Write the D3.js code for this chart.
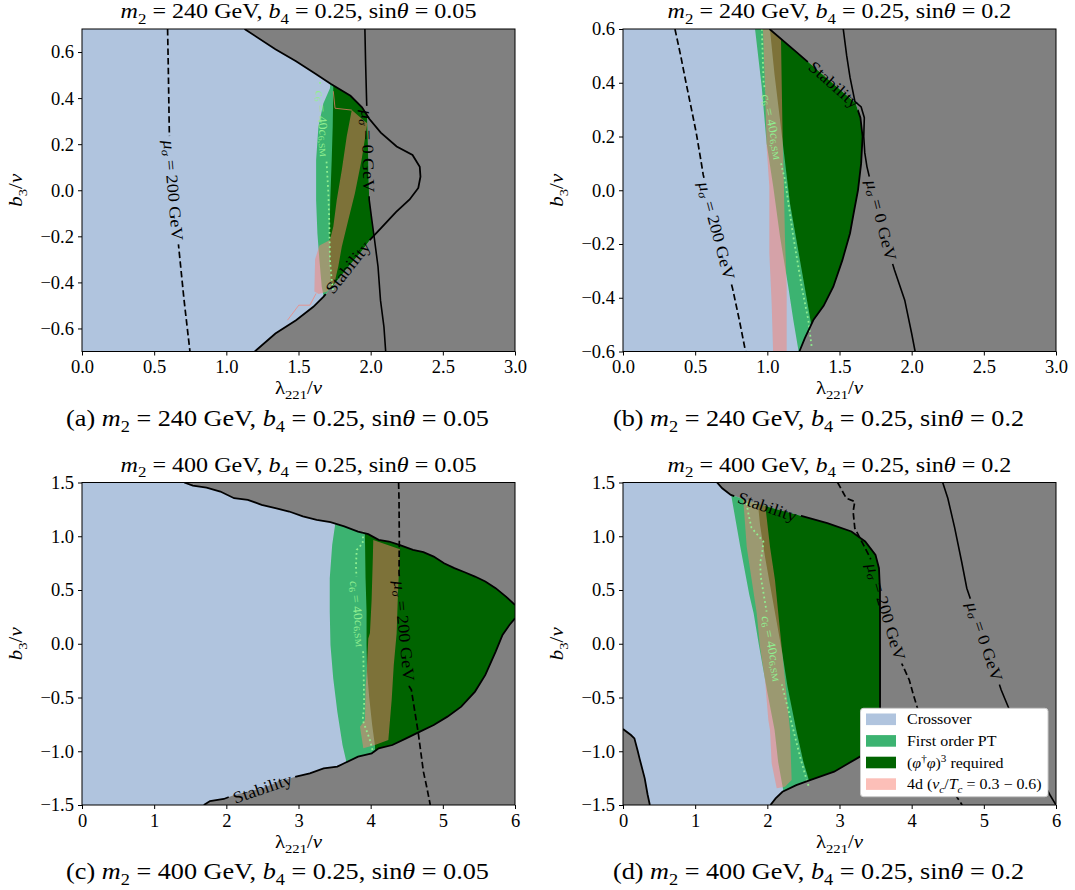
<!DOCTYPE html>
<html><head><meta charset="utf-8">
<script src="https://cdn.jsdelivr.net/npm/d3@7"></script>
<style>body{margin:0;background:#fff} svg text{font-family:"Liberation Serif","DejaVu Serif",serif;}</style>
</head><body><svg id="c" width="1075" height="890" style="background:#fff"></svg>
<script>
// ---------- tick values ----------
const xTicksAB=[0,0.5,1,1.5,2,2.5,3];
const yTicksA=[-0.6,-0.4,-0.2,0,0.2,0.4,0.6];
const yTicksB=[-0.6,-0.4,-0.2,0,0.2,0.4,0.6];
const xTicksCD=[0,1,2,3,4,5,6];
const yTicksCD=[-1.5,-1,-0.5,0,0.5,1,1.5];
const m2Values=['240','240','400','400'];
const sinValues=['0.05','0.2','0.05','0.2'];
const tags=['(a)','(b)','(c)','(d)'];
const legendNames=['Crossover','First order PT','(φ†φ)3 required','4d (vc/Tc = 0.3 − 0.6)'];

// ---------- panel (a) ----------
const stabA=[[1.126,0.7],[1.34,0.612],[1.483,0.56],[1.62,0.505],[1.722,0.462],[1.86,0.41],[1.94,0.36],[1.99,0.31],[2.07,0.25],[2.18,0.19],[2.29,0.153],[2.34,0.102],[2.345,0.059],[2.33,0.01],[2.27,-0.04],[2.175,-0.095],[2.07,-0.165],[1.995,-0.215],[1.93,-0.27],[1.865,-0.317],[1.77,-0.39],[1.674,-0.462],[1.603,-0.506],[1.483,-0.564],[1.34,-0.622],[1.197,-0.7]];
const mu0A=[[1.96,0.7],[1.965,0.55],[1.972,0.386],[1.978,0.25],[1.982,0.17],[1.985,0.05],[1.99,-0.042],[2.008,-0.129],[2.027,-0.216],[2.051,-0.332],[2.068,-0.477],[2.092,-0.593],[2.104,-0.7]];
const mu200A=[[0.593,0.7],[0.596,0.6],[0.6,0.45],[0.605,0.247],[0.62,0.1],[0.633,0],[0.655,-0.15],[0.672,-0.259],[0.707,-0.476],[0.748,-0.7]];
const fopA=[[1.76,0.75],[1.718,0.443],[1.672,0.377],[1.638,0.276],[1.622,0.131],[1.622,-0.043],[1.631,-0.188],[1.645,-0.303],[1.661,-0.419],[1.672,-0.455],[1.72,-0.75]];
const dgA=[[1.75,0.75],[1.741,0.443],[1.737,0.276],[1.73,0.131],[1.72,-0.043],[1.715,-0.2],[1.72,-0.35],[1.74,-0.75]];
const pinkA=[[1.869,0.348],[1.977,0.29],[1.937,0.131],[1.891,-0.013],[1.845,-0.129],[1.8,-0.245],[1.776,-0.33],[1.75,-0.4],[1.7,-0.44],[1.64,-0.45],[1.61,-0.44],[1.615,-0.3],[1.645,-0.24],[1.718,-0.216],[1.741,-0.158],[1.765,-0.042],[1.8,0.088],[1.834,0.233]];
const pinkEdgeA1=[[1.741,0.43],[1.753,0.356],[1.869,0.348]];
const pinkEdgeA2=[[1.424,-0.564],[1.502,-0.499],[1.579,-0.499],[1.622,-0.448]];
const dotA=[[1.649,0.47],[1.655,0.4],[1.672,0.29],[1.695,0.117],[1.707,-0.013],[1.714,-0.158],[1.718,-0.303],[1.73,-0.39],[1.74,-0.44]];

// ---------- panel (b) ----------
const stabB=[[1.015,0.6],[1.2,0.515],[1.4,0.422],[1.61,0.325],[1.645,0.27],[1.66,0.2],[1.65,0.1],[1.628,0.0],[1.6,-0.08],[1.573,-0.16],[1.52,-0.26],[1.457,-0.359],[1.39,-0.43],[1.319,-0.483],[1.26,-0.55],[1.222,-0.6]];
const mu0B=[[1.526,0.6],[1.55,0.5],[1.573,0.42],[1.607,0.33],[1.65,0.31],[1.672,0.27],[1.668,0.2],[1.675,0.14],[1.69,0.088],[1.72,0.02],[1.79,-0.111],[1.86,-0.26],[1.881,-0.297],[1.952,-0.409],[2.0,-0.533],[2.024,-0.6]];
const mu200B=[[0.36,0.6],[0.4,0.5],[0.437,0.399],[0.475,0.3],[0.508,0.212],[0.54,0.11],[0.556,0.057],[0.65,-0.15],[0.759,-0.365],[0.806,-0.483],[0.849,-0.6]];
const fopB=[[0.905,0.65],[0.915,0.599],[0.961,0.385],[0.995,0.175],[1.041,0.013],[1.088,-0.173],[1.145,-0.359],[1.18,-0.483],[1.215,-0.594],[1.225,-0.65]];
const dgB=[[1.01,0.65],[1.018,0.599],[1.05,0.43],[1.088,0.261],[1.157,-0.049],[1.238,-0.297],[1.307,-0.508],[1.33,-0.65]];
const pinkB=[[0.968,0.62],[0.984,0.385],[0.995,0.162],[1.014,0.013],[1.014,-0.235],[1.03,-0.421],[1.041,-0.62],[1.134,-0.62],[1.134,-0.359],[1.122,-0.173],[1.115,0.013],[1.106,0.199],[1.1,0.385],[1.093,0.62]];
const dotB=[[0.962,0.6],[0.974,0.4],[1.04,0.237],[1.105,0.076],[1.122,0.04],[1.18,-0.173],[1.238,-0.359],[1.284,-0.483],[1.307,-0.582]];

// ---------- panel (c) ----------
const topC=[[1.416,1.5],[1.536,1.471],[1.726,1.453],[1.917,1.416],[2.108,1.354],[2.298,1.339],[2.489,1.292],[2.68,1.261],[2.871,1.23],[3.061,1.184],[3.252,1.153],[3.443,1.131],[3.634,1.091],[3.825,1.044],[3.967,1.019],[4.111,0.967],[4.254,0.951],[4.397,0.92],[4.587,0.873],[4.731,0.852],[4.874,0.811],[5.017,0.749],[5.16,0.703],[5.303,0.665],[5.446,0.625],[5.589,0.579],[5.732,0.517],[5.875,0.439],[6.0,0.361]];
const botC=[[1.688,-1.5],[1.774,-1.463],[1.965,-1.444],[2.108,-1.407],[2.298,-1.376],[2.5,-1.345],[2.7,-1.29],[2.966,-1.236],[3.157,-1.205],[3.348,-1.159],[3.538,-1.143],[3.634,-1.112],[3.825,-1.05],[4.015,-1.019],[4.111,-0.973],[4.301,-0.942],[4.492,-0.88],[4.683,-0.818],[4.874,-0.756],[5.064,-0.678],[5.255,-0.585],[5.446,-0.445],[5.589,-0.29],[5.732,-0.073],[5.827,0.082],[5.923,0.175],[6.0,0.237]];
const mu200C=[[4.387,1.5],[4.393,1.337],[4.397,0.951],[4.393,0.655],[4.466,0.12],[4.536,-0.4],[4.564,-0.429],[4.66,-0.833],[4.731,-1.19],[4.776,-1.33],[4.826,-1.5]];
const fopC=[[3.52,1.6],[3.515,1.143],[3.467,0.92],[3.433,0.61],[3.433,0.3],[3.443,-0.011],[3.481,-0.321],[3.538,-0.632],[3.61,-0.942],[3.658,-1.081],[3.7,-1.6]];
const dgC=[[3.92,1.6],[3.92,1.037],[3.929,0.61],[3.943,0.3],[3.943,-0.011],[3.95,-0.26],[3.98,-0.5],[4.02,-0.75],[4.06,-0.95],[4.08,-1.6]];
const pinkC=[[4.036,0.965],[4.406,0.878],[4.38,0.5],[4.36,0.097],[4.32,-0.2],[4.291,-0.523],[4.245,-0.895],[4.059,-0.942],[3.898,-0.972],[3.852,-0.772],[3.921,-0.709],[3.93,-0.4],[3.944,-0.275],[3.967,0.05],[3.99,0.1],[4.013,0.407],[4.03,0.8]];
const dotC=[[3.898,1.042],[3.889,0.934],[3.806,0.872],[3.796,0.717],[3.83,0.28],[3.898,-0.089],[3.91,-0.586],[3.889,-0.709],[3.99,-0.895],[4.036,-1.019]];

// ---------- panel (d) ----------
const stabD=[[1.303,1.5],[1.375,1.446],[1.494,1.385],[1.75,1.325],[2.0,1.275],[2.25,1.228],[2.496,1.184],[2.831,1.122],[3.165,1.044],[3.356,0.951],[3.499,0.827],[3.547,0.703],[3.561,0.5],[3.562,0],[3.562,-0.6],[3.555,-0.8],[3.5,-0.94],[3.284,-1.05],[2.926,-1.19],[2.592,-1.268],[2.401,-1.315],[2.21,-1.377],[2.115,-1.438],[2.043,-1.5]];
const cornerD=[[0,-0.793],[0.11,-0.849],[0.158,-0.88],[0.205,-1.0],[0.229,-1.066],[0.301,-1.252],[0.34,-1.4],[0.372,-1.5]];
const mu200D=[[2.974,1.5],[3.093,1.354],[3.212,1.323],[3.189,1.23],[3.212,1.075],[3.332,0.92],[3.427,0.796],[3.645,0.3],[3.851,-0.167],[3.967,-0.337],[4.024,-0.476],[4.095,-0.631],[4.3,-1.0],[4.55,-1.35],[4.7,-1.5]];
const mu0D=[[4.43,1.5],[4.501,1.354],[4.597,1.075],[4.692,0.765],[4.764,0.517],[5.014,0.02],[5.241,-0.43],[5.5,-0.85],[5.75,-1.2],[5.917,-1.407],[6.0,-1.5]];
const fopD=[[1.53,1.6],[1.5,1.38],[1.62,0.92],[1.75,0.455],[1.81,0.283],[1.88,0],[2.0,-0.45],[2.1,-0.8],[2.15,-1.1],[2.22,-1.36],[2.26,-1.6]];
const dgD=[[1.86,1.6],[1.87,1.3],[1.9,1.1],[1.97,0.8],[2.05,0.5],[2.13,0.2],[2.21,-0.1],[2.28,-0.4],[2.4,-0.8],[2.5,-1.1],[2.59,-1.3],[2.65,-1.6]];
const pinkD=[[1.64,1.45],[1.667,1.337],[1.714,0.903],[1.783,0.593],[1.853,0.283],[1.898,-0.027],[1.968,-0.337],[2.014,-0.709],[2.037,-0.802],[2.06,-1.112],[2.13,-1.345],[2.245,-1.33],[2.337,-1.267],[2.314,-0.802],[2.245,-0.337],[2.175,0.128],[2.106,0.593],[2.037,0.903],[1.968,1.307],[1.95,1.45]];
const dotD=[[1.714,1.307],[1.74,1.2],[1.78,1.08],[1.945,0.95],[1.93,0.85],[1.9,0.75],[1.91,0.62],[2.074,-0.043],[2.245,-0.492],[2.36,-0.802],[2.453,-1.05],[2.545,-1.267],[2.57,-1.32]];

// ---------- drawing ----------
const SERIF='"Liberation Serif","DejaVu Serif",serif';
const SX=1.1;
const DASH='6.5,3.2';
const COL={cross:'#b0c4de',fop:'#3cb371',dg:'#006400',pink:'#fa8072',gray:'#808080',dot:'#90ee90'};
const svg=d3.select('#c');
const defs=svg.append('defs');

function rich(sel,segs,fs){
  let shift=0;
  for(const s of segs){
    const t=sel.append('tspan').text(s.t);
    if(s.i) t.attr('font-style','italic');
    const target=s.sub?0.28*fs:(s.sup?-0.38*fs:0);
    if(target!==shift){t.attr('dy',(target-shift).toFixed(2));shift=target;}
    if(s.sub||s.sup) t.attr('font-size',(fs*0.7).toFixed(2));
  }
  return sel;
}
const muSegs=v=>[{t:'μ',i:1},{t:'σ',i:1,sub:1},{t:' = '+v+' GeV'}];
const c6Segs=[{t:'c',i:1},{t:'6',sub:1},{t:' = 40'},{t:'c',i:1},{t:'6,SM',sub:1}];
const stabSegs=[{t:'Stability'}];
const titleSegs=(m2,s)=>[{t:'m',i:1},{t:'2',sub:1},{t:' = '+m2+' GeV, '},{t:'b',i:1},{t:'4',sub:1},{t:' = 0.25, sin'},{t:'θ',i:1},{t:' = '+s}];

const fmt1=d3.format('.1f'), fmt0=d3.format('d');
const panels=[
 {key:'a',left:82,top:29,w:433,h:322.5,xd:[0,3],yd:[-0.7,0.7],xt:xTicksAB,xf:fmt1,yt:yTicksA,yf:fmt1,
  stable:[...stabA,[0,-0.7],[0,0.7]], extra:[...mu0A,[0,-0.7],[0,0.7]],
  fop:fopA,dg:dgA,pink:pinkA,pinkEdges:[pinkEdgeA1,pinkEdgeA2],dot:dotA,c6:{x:1.672,y:0.29,a:85},
  lines:[{pts:stabA,w:1.8,lab:{segs:stabSegs,x:1.842,y:-0.335,a:-51.7}},
         {pts:mu0A,w:1.6,lab:{segs:muSegs('0'),x:1.982,y:0.17,a:88.5}},
         {pts:mu200A,w:1.7,dash:DASH,lab:{segs:muSegs('200'),x:0.633,y:0,a:85}}]},
 {key:'b',left:623,top:29,w:433,h:322.5,xd:[0,3],yd:[-0.6,0.6],xt:xTicksAB,xf:fmt1,yt:yTicksB,yf:fmt1,
  stable:[...stabB,[0,-0.6],[0,0.6]],
  fop:fopB,dg:dgB,pink:pinkB,dot:dotB,c6:{x:1.04,y:0.237,a:77.8},
  lines:[{pts:stabB,w:1.8,lab:{segs:stabSegs,x:1.463,y:0.393,a:41.5}},
         {pts:mu0B,w:1.6,lab:{segs:muSegs('0'),x:1.79,y:-0.111,a:76}},
         {pts:mu200B,w:1.7,dash:DASH,lab:{segs:muSegs('200'),x:0.65,y:-0.15,a:75}}]},
 {key:'c',left:82,top:482.5,w:433,h:322.5,xd:[0,6],yd:[-1.5,1.5],xt:xTicksCD,xf:fmt0,yt:yTicksCD,yf:fmt1,
  stable:[[0,1.5],...topC,...botC.slice().reverse(),[0,-1.5]],
  fop:fopC,dg:dgC,pink:pinkC,dot:dotC,c6:{x:3.83,y:0.28,a:83},
  lines:[{pts:topC,w:1.8},
         {pts:botC,w:1.8,lab:{segs:stabSegs,x:2.5,y:-1.345,a:-19}},
         {pts:mu200C,w:1.7,dash:DASH,lab:{segs:muSegs('200'),x:4.466,y:0.12,a:84.5}}]},
 {key:'d',left:623,top:482.5,w:433,h:322.5,xd:[0,6],yd:[-1.5,1.5],xt:xTicksCD,xf:fmt0,yt:yTicksCD,yf:fmt1,
  stable:[[0,1.5],...stabD,...cornerD.slice().reverse()],
  fop:fopD,dg:dgD,pink:pinkD,dot:dotD,c6:{x:2.074,y:-0.043,a:78.5},
  lines:[{pts:stabD,w:1.8,lab:{segs:stabSegs,x:2.0,y:1.275,a:18.5}},
         {pts:cornerD,w:1.8},
         {pts:mu200D,w:1.7,dash:DASH,lab:{segs:muSegs('200'),x:3.645,y:0.3,a:73.5}},
         {pts:mu0D,w:1.6,lab:{segs:muSegs('0'),x:5.014,y:0.02,a:71.5}}],
  legend:true}
];

let maskCount=0;
function strokeLine(layer,textLayer,p,line,x,y,pts,style,lab,fs,color){
  const path=layer.append('path').attr('d',line(pts)).attr('fill','none')
    .attr('stroke',color).attr('stroke-width',style.w);
  if(style.dash) path.attr('stroke-dasharray',style.dash);
  if(!lab) return;
  const cx=x(lab.x), cy=y(lab.y);
  const t=textLayer.append('text').attr('text-anchor','middle').attr('dominant-baseline','central')
    .attr('font-size',fs).attr('fill',color).attr('font-family',SERIF)
    .attr('transform',`translate(${cx},${cy}) rotate(${lab.a}) scale(${SX},1)`);
  rich(t,lab.segs,fs);
  const len=t.node().getComputedTextLength()*SX;
  const id='m'+(maskCount++);
  const m=defs.append('mask').attr('id',id).attr('maskUnits','userSpaceOnUse')
    .attr('x',-30).attr('y',-30).attr('width',p.w+60).attr('height',p.h+60);
  m.append('rect').attr('x',-30).attr('y',-30).attr('width',p.w+60).attr('height',p.h+60).attr('fill','#fff');
  m.append('rect').attr('x',-len/2-4).attr('y',-fs*0.5).attr('width',len+8).attr('height',fs)
    .attr('fill','#000').attr('transform',`translate(${cx},${cy}) rotate(${lab.a})`);
  path.attr('mask',`url(#${id})`);
}

const titleNodes=[],capNodes=[];
panels.forEach((p,i)=>{
  const g=svg.append('g').attr('transform',`translate(${p.left},${p.top})`).attr('font-family',SERIF);
  const x=d3.scaleLinear().domain(p.xd).range([0,p.w]);
  const y=d3.scaleLinear().domain(p.yd).range([p.h,0]);
  const line=d3.line().x(d=>x(d[0])).y(d=>y(d[1]));
  const id='p'+p.key;
  defs.append('clipPath').attr('id',id+'r').append('rect').attr('width',p.w).attr('height',p.h);
  defs.append('clipPath').attr('id',id+'s').append('path').attr('d',line(p.stable)+'Z');
  const plot=g.append('g').attr('clip-path',`url(#${id}r)`);
  plot.append('rect').attr('width',p.w).attr('height',p.h).attr('fill',COL.gray);
  let inner=plot.append('g').attr('clip-path',`url(#${id}s)`);
  if(p.extra){
    defs.append('clipPath').attr('id',id+'e').append('path').attr('d',line(p.extra)+'Z');
    inner=inner.append('g').attr('clip-path',`url(#${id}e)`);
  }
  const [X0,X1]=p.xd,[Y0,Y1]=p.yd;
  const closeRight=pts=>[...pts,[X1+1,Y0-1],[X1+1,Y1+1]];
  inner.append('rect').attr('x',-5).attr('y',-5).attr('width',p.w+10).attr('height',p.h+10).attr('fill',COL.cross);
  inner.append('path').attr('d',line(closeRight(p.fop))+'Z').attr('fill',COL.fop);
  inner.append('path').attr('d',line(closeRight(p.dg))+'Z').attr('fill',COL.dg);
  inner.append('path').attr('d',line(p.pink)+'Z').attr('fill',COL.pink).attr('fill-opacity',0.5);
  (p.pinkEdges||[]).forEach(e=>inner.append('path').attr('d',line(e)).attr('fill','none')
      .attr('stroke',COL.pink).attr('stroke-opacity',0.7).attr('stroke-width',1));
  const lineLayer=plot.append('g'), textLayer=plot.append('g');
  strokeLine(lineLayer,textLayer,p,line,x,y,p.dot,{w:1.8,dash:'1.8,2.9'},{segs:c6Segs,...p.c6},12.5,COL.dot);
  p.lines.forEach(L=>strokeLine(lineLayer,textLayer,p,line,x,y,L.pts,L,L.lab,16.5,'#000'));

  g.append('rect').attr('width',p.w).attr('height',p.h).attr('fill','none').attr('stroke','#000').attr('stroke-width',1);
  const ax=g.append('g').attr('transform',`translate(0,${p.h})`)
    .call(d3.axisBottom(x).tickValues(p.xt).tickFormat(p.xf).tickSize(4).tickSizeOuter(0).tickPadding(4.5));
  const ay=g.append('g')
    .call(d3.axisLeft(y).tickValues(p.yt).tickFormat(p.yf).tickSize(4).tickSizeOuter(0).tickPadding(4));
  [ax,ay].forEach(a=>{a.select('.domain').remove();a.attr('font-family',SERIF).attr('font-size',18.5);
    a.selectAll('text').attr('fill','#000').attr('font-family',SERIF).attr('font-size',18.5);
    a.selectAll('line').attr('stroke','#000');});
  const xl=g.append('text').attr('text-anchor','middle').attr('font-size',19)
    .attr('transform',`translate(${p.w/2},${p.h+42.5}) scale(${SX},1)`);
  rich(xl,[{t:'λ'},{t:'221',sub:1},{t:'/'},{t:'v',i:1}],19);
  const yl=g.append('text').attr('text-anchor','middle').attr('font-size',19)
    .attr('transform',`translate(-60,${p.h/2}) rotate(-90) scale(${SX},1)`);
  rich(yl,[{t:'b',i:1},{t:'3',sub:1},{t:'/'},{t:'v',i:1}],19);
  const tt=g.append('text').attr('text-anchor','middle').attr('font-size',20)
    .attr('data-cx',p.w/2).attr('data-cy',-10.7);
  rich(tt,titleSegs(m2Values[i],sinValues[i]),20);
  titleNodes.push(tt);
  const cp=g.append('text').attr('text-anchor','middle').attr('font-size',22.5)
    .attr('data-cx',p.w/2-21).attr('data-cy',p.h+74);
  rich(cp,[{t:tags[i]+' '},...titleSegs(m2Values[i],sinValues[i])],22.5);
  capNodes.push(cp);

  if(p.legend){
    const lx=237.5, ly=225.8, lw=187.5, lh=88.4;
    const lg=g.append('g').attr('transform',`translate(${lx},${ly})`);
    lg.append('rect').attr('width',lw).attr('height',lh).attr('rx',3).attr('fill','#fff').attr('stroke','#cccccc').attr('stroke-width',1);
    const sw=[{f:COL.cross,o:1},{f:COL.fop,o:1},{f:COL.dg,o:1},{f:COL.pink,o:0.5}];
    const segsL=[[{t:legendNames[0]}],[{t:legendNames[1]}],
      [{t:'('},{t:'φ',i:1},{t:'†',sup:1},{t:'φ',i:1},{t:')'},{t:'3',sup:1},{t:' required'}],
      [{t:'4d ('},{t:'v',i:1},{t:'c',i:1,sub:1},{t:'/'},{t:'T',i:1},{t:'c',i:1,sub:1},{t:' = 0.3 − 0.6)'}]];
    sw.forEach((s,k)=>{
      const cy=11+k*21.6;
      lg.append('rect').attr('x',5.5).attr('y',cy-5.8).attr('width',30).attr('height',11.6).attr('fill',s.f).attr('fill-opacity',s.o);
      const t=lg.append('text').attr('font-size',14.5).attr('transform',`translate(46.5,${cy+5}) scale(${SX},1)`);
      rich(t,segsL[k],14.5);
    });
  }
});
const kT=356/titleNodes[0].node().getComputedTextLength();
titleNodes.forEach(t=>t.attr('transform',`translate(${t.attr('data-cx')},${t.attr('data-cy')}) scale(${kT},1)`));
const kC=423/capNodes[0].node().getComputedTextLength();
capNodes.forEach(t=>t.attr('transform',`translate(${t.attr('data-cx')},${t.attr('data-cy')}) scale(${kC},1)`));
</script>
</body></html>
